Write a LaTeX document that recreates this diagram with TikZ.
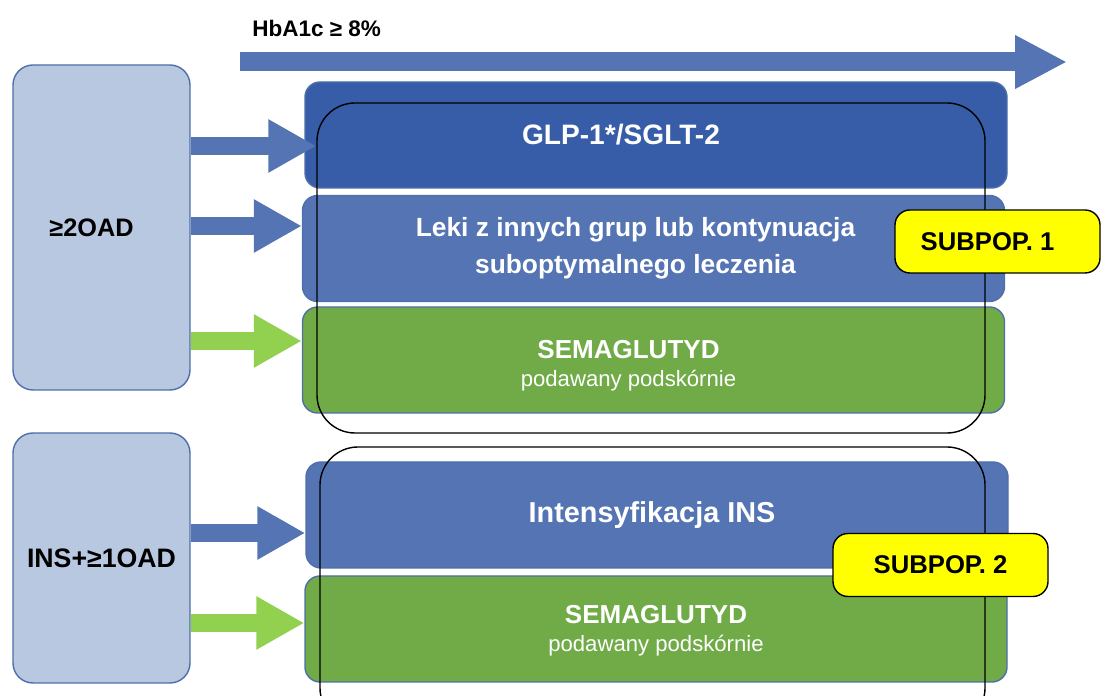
\documentclass[tikz,border=0pt]{standalone}
\usepackage{fontspec}
\setmainfont{Liberation Sans}
\usetikzlibrary{arrows.meta}

\definecolor{groupfill}{HTML}{B9C8E1}
\definecolor{groupline}{HTML}{4F6EAA}
\definecolor{darkblue}{HTML}{385DA8}
\definecolor{midblue}{HTML}{5474B4}
\definecolor{boxgreen}{HTML}{70AB47}
\definecolor{arrowgreen}{HTML}{92D050}
\definecolor{tagyellow}{HTML}{FFFF00}

\begin{document}
\begin{tikzpicture}[
  every node/.style={font=\bfseries\fontsize{8}{10}\selectfont, align=center},
  group/.style={draw=groupline, fill=groupfill, rounded corners=2mm, minimum width=1.77cm},
  therapy/.style={draw=groupline, rounded corners=1.5mm,
    minimum width=7.02cm, minimum height=1.06cm, inner sep=0pt},
  caption/.style={text=white, inner sep=0pt},
  tag/.style={draw=black, fill=tagyellow, rounded corners=1.5mm, minimum width=2.05cm,
    minimum height=.63cm, font=\bfseries\fontsize{7.3}{9}\selectfont},
  frame/.style={draw=black, rounded corners=3.8mm},
  flow/.style={line width=1.8mm, -{Triangle[length=4.8mm, width=5mm]}},
]
  \clip (0,0) rectangle (11.03,6.96);

  \coordinate (HS) at (2.40,6.34);
  \coordinate (HE) at (10.67,6.34);

  % patient groups
  \node[group, minimum height=3.25cm, font=\bfseries\fontsize{7.2}{9}\selectfont] (oad2) at (1.015,4.685) {≥2OAD\hspace*{2mm}};
  \node[group, minimum height=2.50cm, font=\bfseries\fontsize{7.6}{9}\selectfont] (ins1) at (1.015,1.38) {INS+≥1OAD};

  % therapy options
  \node[therapy, fill=darkblue] (glp)   at (6.56,5.61)  {};
  \node[therapy, fill=midblue]  (leki)  at (6.535,4.475) {};
  \node[therapy, fill=boxgreen] (sema1) at (6.535,3.36) {};
  \node[therapy, fill=midblue]  (ins)   at (6.57,1.81)  {};
  \node[therapy, fill=boxgreen] (sema2) at (6.56,0.67)  {};

  \node[caption] (glptext) at ([xshift=-3.5mm]glp) {GLP-1*/SGLT-2};
  \node[caption, font=\bfseries\fontsize{7.5}{10.5}\selectfont] (lekitext) at ([xshift=-1.8mm]leki)
    {Leki z innych grup lub kontynuacja\\suboptymalnego leczenia};
  \node[caption, font=\bfseries\fontsize{7.4}{9}\selectfont] (sema1text) at ([xshift=-2.5mm,yshift=-.6mm]sema1)
    {SEMAGLUTYD\\[-1pt]{\mdseries\fontsize{6.3}{8}\selectfont podawany podskórnie}};
  \node[caption, font=\bfseries\fontsize{8.2}{10}\selectfont] (instext) at ([xshift=-.5mm]ins)
    {Intensyfikacja INS};
  \node[caption, font=\bfseries\fontsize{7.4}{9}\selectfont] (sema2text) at ([yshift=-.2mm]sema2)
    {SEMAGLUTYD\\[-1pt]{\mdseries\fontsize{6.3}{8}\selectfont podawany podskórnie}};

  % HbA1c axis
  \draw[flow, midblue, line width=1.9mm, -{Triangle[length=5.2mm, width=5mm]}] (HS) -- (HE);
  \node[anchor=west, font=\bfseries\fontsize{6.4}{8}\selectfont] (hba) at (2.40,6.68) {HbA1c ≥ 8\%};

  % arrows to therapies
  \draw[flow, midblue]    (oad2.east |- 0,5.50) -- ([xshift=1.2mm]glp.west |- 0,5.50);
  \draw[flow, midblue]    (oad2.east |- 0,4.70) -- (leki.west |- 0,4.70);
  \draw[flow, arrowgreen] (oad2.east |- 0,3.55) -- (sema1.west |- 0,3.55);
  \draw[flow, midblue]    (ins1.east |- 0,1.63) -- (ins.west |- 0,1.63);
  \draw[flow, arrowgreen] (ins1.east |- 0,0.73) -- (sema2.west |- 0,0.73);

  % subpopulations
  \draw[frame] (3.17,5.93) rectangle (9.85,2.63);
  \draw[frame] (3.20,2.49) rectangle (9.85,-0.30);
  \node[tag] (sub1) at (9.975,4.545) {SUBPOP. 1\hspace*{2mm}};
  \node[tag, minimum width=2.15cm] (sub2) at (9.405,1.31) {SUBPOP. 2};
\end{tikzpicture}
\end{document}
